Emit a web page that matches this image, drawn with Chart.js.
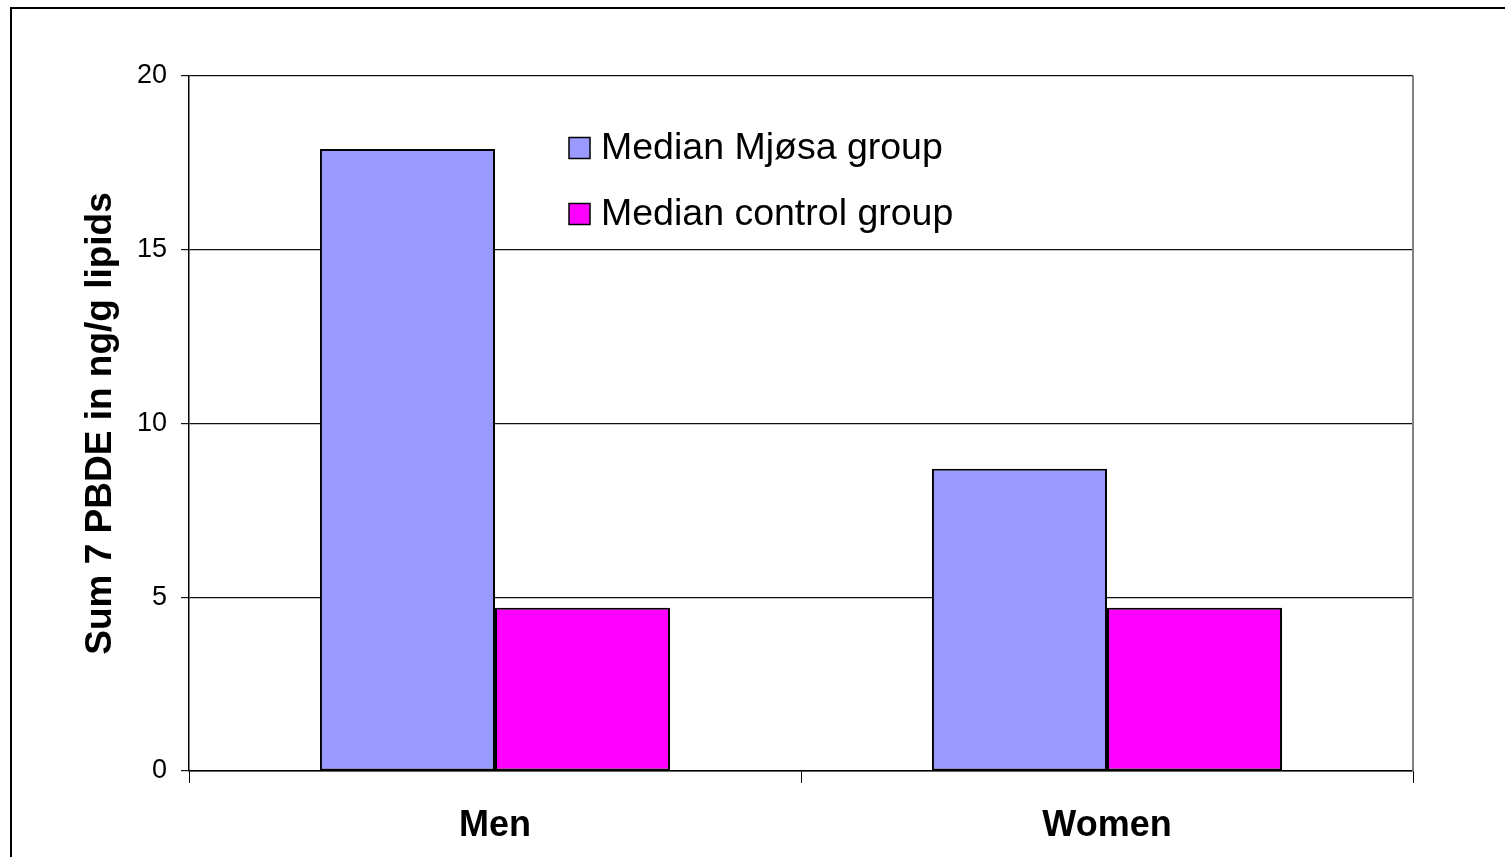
<!DOCTYPE html>
<html>
<head>
<meta charset="utf-8">
<script src="https://cdn.jsdelivr.net/npm/chart.js@4.4.1/dist/chart.umd.min.js"></script>
<style>
  html, body { margin: 0; padding: 0; background: #fff; overflow: hidden; }
  #wrap { position: relative; width: 1505px; height: 857px; }
</style>
</head>
<body>
<div id="wrap"><canvas id="c" width="1505" height="857"></canvas></div>
<script>
// Data
const categories = ['Men', 'Women'];
const seriesNames = ['Median Mjøsa group', 'Median control group'];
const mjosaValues = [17.9, 8.7];
const controlValues = [4.7, 4.7];
const yTicks = [0, 5, 10, 15, 20];
const yTitle = 'Sum 7 PBDE in ng/g lipids';

const FONT = '"Liberation Sans", Arial, Helvetica, sans-serif';

// Outer frame and right-hand plot border
const framePlugin = {
  id: 'frame',
  beforeDraw(chart) {
    const ctx = chart.ctx;
    ctx.save();
    ctx.strokeStyle = '#000';
    ctx.lineWidth = 2;
    ctx.strokeRect(11, 8, 1700, 1100);
    ctx.restore();
  },
  afterDraw(chart) {
    const {ctx, chartArea} = chart;
    ctx.save();
    ctx.strokeStyle = '#808080';
    ctx.lineWidth = 2;
    ctx.beginPath();
    ctx.moveTo(chartArea.right, chartArea.top);
    ctx.lineTo(chartArea.right, chartArea.bottom);
    ctx.stroke();
    ctx.restore();
  }
};

// Legend drawn inside the plot area
const insideLegend = {
  id: 'insideLegend',
  afterDatasetsDraw(chart, args, opts) {
    const ctx = chart.ctx;
    ctx.save();
    ctx.font = opts.fontSize + 'px ' + FONT;
    ctx.textBaseline = 'middle';
    ctx.textAlign = 'left';
    chart.data.datasets.forEach((ds, i) => {
      const cy = opts.y + i * opts.rowGap;
      ctx.fillStyle = ds.backgroundColor;
      ctx.fillRect(opts.x, cy - opts.box / 2, opts.box, opts.box);
      ctx.strokeStyle = '#000';
      ctx.lineWidth = 1.5;
      ctx.strokeRect(opts.x, cy - opts.box / 2, opts.box, opts.box);
      ctx.fillStyle = '#000';
      ctx.fillText(ds.label, opts.textX, cy + 1);
    });
    ctx.restore();
  }
};

new Chart(document.getElementById('c'), {
  type: 'bar',
  data: {
    labels: categories,
    datasets: [
      { label: seriesNames[0], data: mjosaValues, backgroundColor: '#9999FF' },
      { label: seriesNames[1], data: controlValues, backgroundColor: '#FF00FF' }
    ]
  },
  options: {
    responsive: false,
    animation: false,
    devicePixelRatio: 1,
    layout: { padding: { left: 0, top: 76, right: 92, bottom: 0 } },
    datasets: {
      bar: {
        categoryPercentage: 0.572,
        barPercentage: 1.0,
        borderColor: '#000',
        borderWidth: 2,
        borderSkipped: false
      }
    },
    plugins: {
      legend: { display: false },
      tooltip: { enabled: false },
      insideLegend: { x: 569, textX: 601, y: 148, rowGap: 66, box: 21, fontSize: 37.5 }
    },
    scales: {
      x: {
        grid: {
          offset: true,
          drawOnChartArea: false,
          drawTicks: true,
          tickLength: 12,
          color: (c) => c.index === categories.length ? '#808080' : '#000',
          lineWidth: 1
        },
        border: { color: '#000', width: 1.5 },
        ticks: {
          color: '#000',
          padding: 21,
          font: { family: FONT, size: 36, weight: 'bold' }
        },
        afterFit(scale) { scale.height = 86; }
      },
      y: {
        min: 0,
        max: 20,
        afterBuildTicks(scale) { scale.ticks = yTicks.map(v => ({ value: v })); },
        grid: { color: '#111', lineWidth: 1.2, tickLength: 8, drawTicks: true },
        border: { color: '#000', width: 1.5 },
        ticks: {
          color: '#000',
          padding: 14,
          font: { family: FONT, size: 27 }
        },
        title: {
          display: true,
          text: yTitle,
          color: '#000',
          padding: { top: 79, bottom: 0 },
          font: { family: FONT, size: 37, weight: 'bold' }
        },
        afterFit(scale) { scale.width = 189; }
      }
    }
  },
  plugins: [framePlugin, insideLegend]
});
</script>
</body>
</html>
